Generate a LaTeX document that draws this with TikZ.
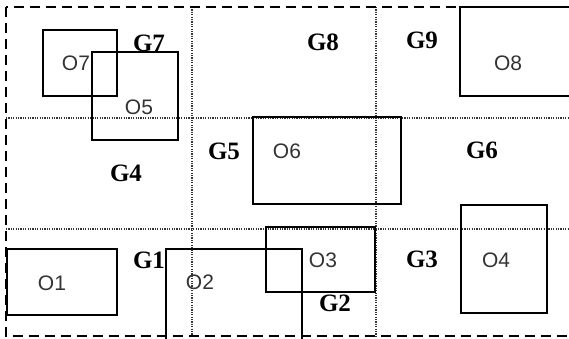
\documentclass[tikz,border=0pt]{standalone}
\usepackage{fontspec}
\setmainfont{Liberation Serif}
\setsansfont{Liberation Sans}
\tikzset{
  objbox/.style={draw=black, line width=1.4pt},
  objlbl/.style={font=\fontsize{21}{23}\selectfont\sffamily, text=black!80, inner sep=0pt},
  cell/.style={font=\fontsize{25}{27}\selectfont\bfseries, inner sep=0pt},
  gridln/.style={draw=black!80, line width=1.2pt, dash pattern=on 1.2pt off 1.2pt},
  border/.style={draw=black, line width=1.7pt, dash pattern=on 10pt off 6pt}
}
\begin{document}
\begin{tikzpicture}[x=1pt, y=-1pt]
  \clip (0,0) rectangle (569,338);
  % grid of cells
  \draw[gridln] (192,7) -- (192,336);
  \draw[gridln] (376,7) -- (376,336);
  \draw[gridln] (6,118) -- (569,118);
  \draw[gridln] (6,229) -- (569,229);
  \draw[border] (6,7) rectangle (590,336);
  % objects
  \foreach \xa/\ya/\xb/\yb in {43/30/117/96, 92/52/178/140, 460/7/590/96,
      253/117/401/204, 7/249/117/315, 166/249/302/345, 266/227/375/292,
      461/205/547/313}
    \draw[objbox] (\xa,\ya) rectangle (\xb,\yb);
  \foreach \n/\x/\y in {7/76/63, 5/139/107, 8/508/63, 6/287/151,
      1/52/283, 2/200/282, 3/323/260, 4/496/260}
    \node[objlbl] (o\n) at (\x,\y) {O\n};
  % cell names
  \foreach \n/\x/\y in {7/149/43, 8/323/42, 9/422/40, 4/126/173,
      5/224/151, 6/482/150, 1/149/260, 2/335/303, 3/422/259}
    \node[cell] (g\n) at (\x,\y) {G\n};
\end{tikzpicture}
\end{document}
